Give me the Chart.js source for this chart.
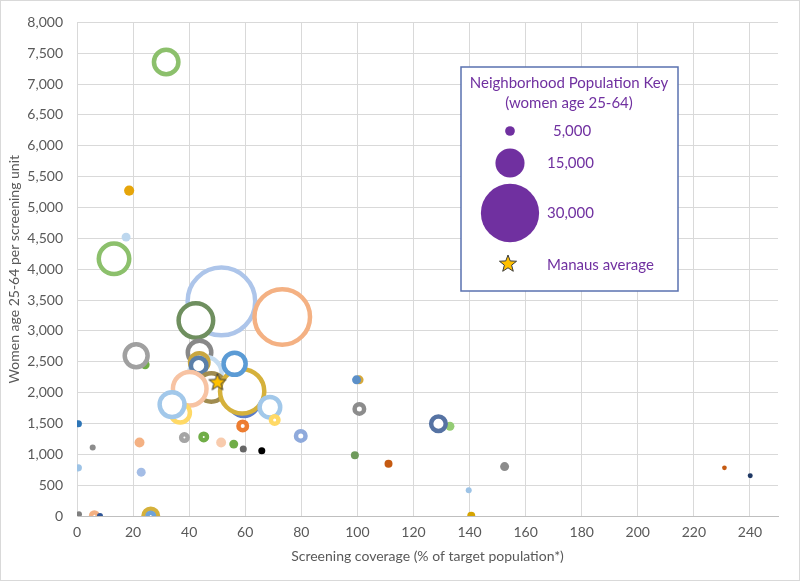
<!DOCTYPE html>
<html><head><meta charset="utf-8">
<script src="https://cdn.jsdelivr.net/npm/chart.js@4.4.0/dist/chart.umd.min.js"></script>
<style>html,body{margin:0;padding:0;background:#fff}#wrap{width:800px;height:581px;position:relative}canvas{display:block}</style>
</head><body><div id="wrap"><canvas id="c" width="800" height="581"></canvas></div>
<script>
// ---- data (drawing order: first drawn at bottom) ----
const coverage = [51.5, 73.2, 42.4, 31.8, 13.2, 18.6, 17.5, 24.3, 21.1, 43.7, 45.8, 43.6, 43.4, 47.9, 40.2, 59.5, 58.9, 56.2, 68.8, 36.8, 33.9, 70.5, 59.1, 79.8, 38.3, 45.2, 51.4, 55.9, 59.3, 65.9, 22.3, 22.9, 26.3, 26.3, 6.2, 8.2, 0.7, 5.6, 0.5, 0.5, 100.6, 99.7, 100.7, 133.0, 128.9, 99.1, 111.1, 152.5, 139.7, 140.6, 230.9, 240.1];
const womenPerUnit = [3478, 3227, 3169, 7358, 4168, 5274, 4520, 2452, 2597, 2650, 2313, 2490, 2437, 2084, 2062, 1860, 2020, 2468, 1763, 1672, 1806, 1555, 1459, 1298, 1271, 1282, 1191, 1165, 1085, 1058, 1191, 710, 0, 0, 5, 0, 30, 1111, 1496, 780, 2207, 2207, 1736, 1454, 1496, 983, 845, 801, 417, 5, 780, 652];
const population = [34800, 28600, 17800, 12600, 15700, 2900, 2300, 2300, 11800, 12100, 16700, 9500, 8000, 14700, 17300, 15200, 22800, 11400, 10600, 10000, 12800, 3900, 4400, 4900, 3350, 3350, 2800, 2300, 1300, 1300, 2800, 2300, 7500, 3350, 3350, 770, 770, 770, 1300, 1300, 2300, 2300, 4900, 2300, 7500, 1800, 1800, 2300, 770, 1800, 100, 250];
const bubbleColors = ['#adc5ea','#f4b183','#6f8f5f','#8cc06c','#8cc06c','#e6a50a','#bdd7ee','#70ad47','#a0a0a0','#888888','#c5dcf0','#c9a640','#5b7fa9','#a08c50','#f7c3a3','#5b7cc8','#d5b13b','#5b9bd5','#a2c8ea','#ffd966','#a2c8ea','#ffd966','#ed7d31','#8faadc','#a5a5a5','#70ad47','#f8cbad','#70ad47','#666666','#000000','#f4b183','#a4bde6','#d5b13b','#6fa3d8','#f4b183','#2f5597','#7f7f7f','#8c8c8c','#2e75b6','#9dc3e6','#d6a83a','#5b8fc8','#8c8c8c','#94cc74','#5673a3','#6f9b5c','#c55a11','#8c8c8c','#9dc3e6','#d6a400','#c55a11','#1f3864'];
const manausAverage = [{x: 50.1, y: 2164}];
const xRange = [0, 250], xStep = 20;
const yRange = [0, 8000], yStep = 500;
const xTitle = 'Screening coverage (% of target population*)';
const yTitle = 'Women age 25-64 per screening unit';
const legendTitle = ['Neighborhood Population Key', '(women age 25-64)'];
const legendSizes = [5000, 15000, 30000];
const legendSizeLabels = ['5,000', '15,000', '30,000'];
const legendStarLabel = 'Manaus average';

const RING = 4.5;
const popToRadius = p => p / 1030;
const FONT = 'Lato, "Open Sans", sans-serif';

function makeStar(outer, inner) {
  const s = Math.ceil(outer * 2 + 4);
  const cv = document.createElement('canvas'); cv.width = s; cv.height = s;
  const c = cv.getContext('2d');
  c.beginPath();
  for (let i = 0; i < 10; i++) {
    const r = i % 2 ? inner : outer;
    const a = -Math.PI / 2 + i * Math.PI / 5;
    c.lineTo(s / 2 + r * Math.cos(a), s / 2 + r * Math.sin(a));
  }
  c.closePath();
  c.fillStyle = '#ffc000'; c.fill();
  c.strokeStyle = '#3a3a3a'; c.lineWidth = 1; c.stroke();
  return cv;
}
const starImg = makeStar(9, 3.8);

const frame = {
  id: 'frame',
  beforeDraw(chart) {
    const c = chart.ctx; c.save();
    c.fillStyle = '#fff'; c.fillRect(0, 0, chart.width, chart.height);
    c.restore();
  },
  afterDraw(chart) {
    const c = chart.ctx; c.save();
    c.strokeStyle = '#d9d9d9'; c.lineWidth = 1;
    c.strokeRect(0.5, 0.5, chart.width - 1, chart.height - 1);
    c.restore();
  }
};

const popKey = {
  id: 'popKey',
  afterDatasetsDraw(chart) {
    const c = chart.ctx; c.save();
    c.fillStyle = '#fff'; c.fillRect(461, 67, 217, 224);
    c.strokeStyle = '#5a72b0'; c.lineWidth = 1.5; c.strokeRect(461, 67, 217, 224);
    c.fillStyle = '#7030a0'; c.font = '15px ' + FONT;
    c.textAlign = 'center'; c.textBaseline = 'middle';
    c.fillText(legendTitle[0], 569, 83);
    c.fillText(legendTitle[1], 569, 103);
    const ys = [131, 163, 213];
    c.textAlign = 'left';
    legendSizes.forEach((p, i) => {
      c.beginPath(); c.arc(510, ys[i], popToRadius(p), 0, Math.PI * 2);
      c.fillStyle = '#7030a0'; c.fill();
      c.fillText(legendSizeLabels[i], i === 0 ? 553 : 547, ys[i]);
    });
    c.drawImage(starImg, 508 - starImg.width / 2, 264 - starImg.height / 2);
    c.fillStyle = '#7030a0';
    c.fillText(legendStarLabel, 547, 265);
    c.restore();
  }
};

function build() {
  // small neighbourhoods render as solid dots, larger ones as white-filled rings
  const isDot = population.map(p => popToRadius(p) < 3.2);
  const bubbles = coverage.map((x, i) => {
    const rc = popToRadius(population[i]);
    return {x, y: womenPerUnit[i], r: isDot[i] ? rc + RING / 2 : rc};
  });
  new Chart(document.getElementById('c'), {
    type: 'bubble',
    data: {
      datasets: [
        { type: 'scatter', data: manausAverage, pointStyle: starImg, order: 0, clip: false },
        { data: bubbles, order: 1,
          borderColor: bubbleColors,
          borderWidth: ctx => isDot[ctx.dataIndex] ? 0 : RING,
          backgroundColor: ctx => isDot[ctx.dataIndex] ? bubbleColors[ctx.dataIndex] : '#ffffff' }
      ]
    },
    options: {
      responsive: false, animation: false, events: [], devicePixelRatio: 1,
      layout: { autoPadding: false, padding: { top: 17, right: 22, bottom: 0, left: 0 } },
      plugins: { legend: { display: false }, tooltip: { enabled: false } },
      scales: {
        x: {
          type: 'linear', min: xRange[0], max: xRange[1],
          ticks: { stepSize: xStep, includeBounds: false, color: '#595959', font: { family: FONT, size: 14 }, padding: 8 },
          grid: { color: '#d9d9d9', drawTicks: false },
          border: { color: '#bfbfbf' },
          title: { display: true, text: xTitle, color: '#595959', font: { family: FONT, size: 14 }, padding: { top: 0, bottom: 16 } },
          afterFit: s => { s.height = 65; }
        },
        y: {
          type: 'linear', min: yRange[0], max: yRange[1],
          ticks: { stepSize: yStep, color: '#595959', font: { family: FONT, size: 14 }, padding: 14 },
          grid: { color: '#d9d9d9', drawTicks: false },
          border: { color: '#d9d9d9' },
          title: { display: true, text: yTitle, color: '#595959', font: { family: FONT, size: 14 }, padding: { top: 6, bottom: 0 } },
          afterFit: s => { s.width = 77; }
        }
      }
    },
    plugins: [frame, popKey]
  });
}
(document.fonts && document.fonts.load ? Promise.all([document.fonts.load('14px Lato'), document.fonts.load('15px Lato')]) : Promise.resolve()).then(build, build);
</script>
</body></html>
